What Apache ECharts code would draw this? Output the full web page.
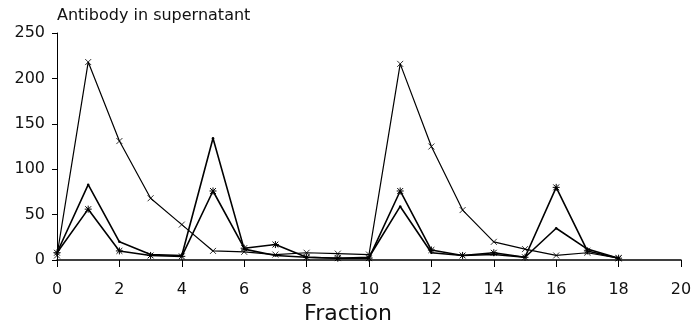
<!DOCTYPE html>
<html>
<head>
<meta charset="utf-8">
<script src="https://cdn.jsdelivr.net/npm/echarts@6/dist/echarts.min.js"></script>
<style>html,body{margin:0;padding:0;background:#fff;}#c{width:693px;height:322px;}</style>
</head>
<body>
<div id="c"></div>
<script>
const fractions = [0,1,2,3,4,5,6,7,8,9,10,11,12,13,14,15,16,17,18];
const seriesA = [5,218,131,68,39,10,9,6,8,7,6,216,125,55,20,12,5,8,2];
const seriesB = [8,83,20,6,5,134,12,5,3,2,3,59,8,5,6,3,35,12,2];
const seriesC = [8,56,10,5,4,76,13,17,3,2,2,76,11,5,8,3,80,10,2];
const xTicks = [0,2,4,6,8,10,12,14,16,18,20];
const yTicks = [0,50,100,150,200,250];
const titleText = 'Antibody in supernatant';
const xName = 'Fraction';

const pair = arr => fractions.map((f, i) => [f, arr[i]]);
const xSym = 'path://M0,0L10,10M10,0L0,10';
const starSym = 'path://M0,0L10,10M10,0L0,10M5,-1L5,11M-1,5L11,5';
const font = 'DejaVu Sans';

const chart = echarts.init(document.getElementById('c'), null, {renderer: 'canvas'});
chart.setOption({
  animation: false,
  backgroundColor: '#fff',
  title: {
    text: titleText, left: 57, top: 8, padding: 0,
    textStyle: {fontFamily: font, fontSize: 16, fontWeight: 'normal', color: '#111'}
  },
  grid: {left: 57, right: 12, top: 33, bottom: 62, containLabel: false, outerBoundsMode: 'none'},
  xAxis: {
    type: 'value', min: xTicks[0], max: xTicks[xTicks.length - 1], interval: 2,
    name: xName, nameLocation: 'middle', nameGap: 36,
    nameTextStyle: {fontFamily: font, fontSize: 22, color: '#111', padding: [0, 42, 0, 0]},
    axisLine: {lineStyle: {color: '#000', width: 1.5}},
    axisTick: {length: 7, lineStyle: {color: '#000', width: 1}},
    axisLabel: {fontFamily: font, fontSize: 16, color: '#111', margin: 22},
    splitLine: {show: false}
  },
  yAxis: {
    type: 'value', min: yTicks[0], max: yTicks[yTicks.length - 1], interval: 50,
    axisLine: {show: true, lineStyle: {color: '#000', width: 1}},
    axisTick: {show: true, length: 5, lineStyle: {color: '#000', width: 1}},
    axisLabel: {fontFamily: font, fontSize: 16, color: '#111', margin: 12},
    splitLine: {show: false}
  },
  series: [
    {
      type: 'line', data: pair(seriesA), symbol: xSym, symbolSize: 6,
      lineStyle: {color: '#000', width: 1.2},
      itemStyle: {color: 'none', borderColor: '#000', borderWidth: 0.8}
    },
    {
      type: 'line', data: pair(seriesB), symbol: 'circle', symbolSize: 2.5,
      lineStyle: {color: '#000', width: 1.6},
      itemStyle: {color: '#000'}
    },
    {
      type: 'line', data: pair(seriesC), symbol: starSym, symbolSize: 7,
      lineStyle: {color: '#000', width: 1.6},
      itemStyle: {color: 'none', borderColor: '#000', borderWidth: 1}
    }
  ]
});
</script>
</body>
</html>
